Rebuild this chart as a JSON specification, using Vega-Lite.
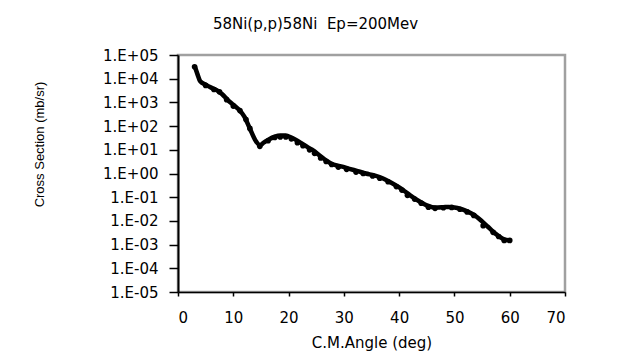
{
  "$schema": "https://vega.github.io/schema/vega-lite/v6.json",
  "width": 387,
  "height": 237,
  "autosize": "none",
  "padding": {"left": 178, "top": 55, "right": 60, "bottom": 66},
  "background": "white",
  "view": {"stroke": "#a0a0a0", "strokeWidth": 2.5},
  "title": {
    "text": "58Ni(p,p)58Ni \u00a0Ep=200Mev",
    "font": "DejaVu Sans",
    "fontSize": 15,
    "fontWeight": "normal",
    "color": "black",
    "anchor": "middle",
    "frame": "group",
    "dx": -56,
    "offset": 16
  },
  "datasets": {
    "theory": [
      {"angle": 3.0, "sigma": 35000}, {"angle": 3.5, "sigma": 16000}, {"angle": 4.0, "sigma": 7900},
      {"angle": 5.0, "sigma": 5600}, {"angle": 6.0, "sigma": 4200}, {"angle": 7.0, "sigma": 3300},
      {"angle": 8.0, "sigma": 2200}, {"angle": 9.0, "sigma": 1260}, {"angle": 10.0, "sigma": 794},
      {"angle": 11.0, "sigma": 501}, {"angle": 12.0, "sigma": 251}, {"angle": 13.0, "sigma": 79},
      {"angle": 14.0, "sigma": 25}, {"angle": 14.8, "sigma": 15.8}, {"angle": 15.5, "sigma": 20},
      {"angle": 16.5, "sigma": 28}, {"angle": 17.5, "sigma": 35.5}, {"angle": 18.5, "sigma": 39.8},
      {"angle": 19.5, "sigma": 39.8}, {"angle": 20.5, "sigma": 33}, {"angle": 21.5, "sigma": 25},
      {"angle": 22.5, "sigma": 17.8}, {"angle": 23.5, "sigma": 12.6}, {"angle": 24.5, "sigma": 9.3},
      {"angle": 25.5, "sigma": 6.0}, {"angle": 26.5, "sigma": 4.0}, {"angle": 27.5, "sigma": 2.8},
      {"angle": 28.5, "sigma": 2.24}, {"angle": 29.5, "sigma": 2.0}, {"angle": 31.0, "sigma": 1.58},
      {"angle": 32.5, "sigma": 1.26}, {"angle": 34.0, "sigma": 1.0}, {"angle": 35.5, "sigma": 0.83},
      {"angle": 37.0, "sigma": 0.63}, {"angle": 38.5, "sigma": 0.42}, {"angle": 40.0, "sigma": 0.26},
      {"angle": 41.0, "sigma": 0.178}, {"angle": 42.0, "sigma": 0.12}, {"angle": 43.0, "sigma": 0.083},
      {"angle": 44.0, "sigma": 0.060}, {"angle": 45.0, "sigma": 0.045}, {"angle": 46.0, "sigma": 0.038},
      {"angle": 47.0, "sigma": 0.037}, {"angle": 48.0, "sigma": 0.038}, {"angle": 49.0, "sigma": 0.039},
      {"angle": 50.0, "sigma": 0.037}, {"angle": 51.0, "sigma": 0.033}, {"angle": 52.0, "sigma": 0.027},
      {"angle": 53.0, "sigma": 0.021}, {"angle": 54.0, "sigma": 0.015}, {"angle": 55.0, "sigma": 0.0095},
      {"angle": 56.0, "sigma": 0.0058}, {"angle": 57.0, "sigma": 0.0035}, {"angle": 58.0, "sigma": 0.0023},
      {"angle": 59.0, "sigma": 0.00165}, {"angle": 60.0, "sigma": 0.0015}
    ],
    "exp": [
      {"angle": 3.0, "sigma": 32000}, {"angle": 5.0, "sigma": 5200}, {"angle": 6.5, "sigma": 3500},
      {"angle": 7.5, "sigma": 2800}, {"angle": 8.8, "sigma": 1300}, {"angle": 10.0, "sigma": 700},
      {"angle": 11.2, "sigma": 450}, {"angle": 12.3, "sigma": 190}, {"angle": 13.0, "sigma": 80},
      {"angle": 14.8, "sigma": 14}, {"angle": 16.3, "sigma": 24}, {"angle": 17.5, "sigma": 33},
      {"angle": 18.5, "sigma": 35}, {"angle": 19.5, "sigma": 35}, {"angle": 20.5, "sigma": 29},
      {"angle": 21.6, "sigma": 20}, {"angle": 22.6, "sigma": 15}, {"angle": 23.8, "sigma": 10},
      {"angle": 24.7, "sigma": 7.1}, {"angle": 25.8, "sigma": 4.5}, {"angle": 26.8, "sigma": 3.2},
      {"angle": 27.8, "sigma": 2.4}, {"angle": 29.0, "sigma": 1.86}, {"angle": 30.5, "sigma": 1.5},
      {"angle": 32.2, "sigma": 1.15}, {"angle": 33.5, "sigma": 1.0}, {"angle": 35.2, "sigma": 0.79},
      {"angle": 36.5, "sigma": 0.63}, {"angle": 38.0, "sigma": 0.45}, {"angle": 39.5, "sigma": 0.28},
      {"angle": 40.5, "sigma": 0.2}, {"angle": 41.5, "sigma": 0.12}, {"angle": 42.8, "sigma": 0.083},
      {"angle": 44.0, "sigma": 0.056}, {"angle": 45.3, "sigma": 0.038}, {"angle": 46.5, "sigma": 0.034},
      {"angle": 48.0, "sigma": 0.036}, {"angle": 49.5, "sigma": 0.037}, {"angle": 51.0, "sigma": 0.031},
      {"angle": 52.3, "sigma": 0.024}, {"angle": 53.5, "sigma": 0.017}, {"angle": 55.2, "sigma": 0.0063},
      {"angle": 57.0, "sigma": 0.0033}, {"angle": 58.0, "sigma": 0.0022}, {"angle": 59.0, "sigma": 0.0015},
      {"angle": 60.0, "sigma": 0.0015}
    ]
  },
  "encoding": {
    "x": {
      "field": "angle",
      "type": "quantitative",
      "scale": {"domain": [0, 70], "nice": false, "zero": false},
      "axis": {
        "title": "C.M.Angle (deg)",
        "values": [0, 10, 20, 30, 40, 50, 60, 70],
        "grid": false,
        "domainColor": "black",
        "domainWidth": 1.5,
        "tickColor": "black",
        "tickWidth": 1.5,
        "tickSize": 4,
        "labelPadding": 14,
        "labelFont": "DejaVu Sans",
        "labelFontSize": 15,
        "labelColor": "black",
        "titleFont": "DejaVu Sans",
        "titleFontSize": 15,
        "titleFontWeight": "normal",
        "titleColor": "black",
        "titlePadding": 10
      }
    },
    "y": {
      "field": "sigma",
      "type": "quantitative",
      "scale": {"type": "log", "domain": [0.00001, 100000], "nice": false},
      "axis": {
        "title": "Cross Section (mb/sr)",
        "values": [0.00001, 0.0001, 0.001, 0.01, 0.1, 1, 10, 100, 1000, 10000, 100000],
        "labelExpr": "'1.E' + (datum.value >= 1 ? '+' : '-') + format(abs(round(log(datum.value) / LN10)), '02d')",
        "grid": false,
        "domainColor": "black",
        "domainWidth": 2,
        "tickColor": "black",
        "tickWidth": 1.5,
        "tickSize": 9,
        "labelPadding": 11,
        "labelFont": "DejaVu Sans",
        "labelFontSize": 15,
        "labelColor": "black",
        "titleFont": "Liberation Sans Narrow, Liberation Sans",
        "titleFontSize": 13,
        "titleFontWeight": "normal",
        "titleColor": "black",
        "titleX": -139,
        "titleY": 89,
        "titleAngle": -90,
        "titleAlign": "center",
        "titleBaseline": "middle"
      }
    }
  },
  "layer": [
    {
      "data": {"name": "theory"},
      "mark": {"type": "line", "color": "black", "strokeWidth": 4.5, "interpolate": "monotone"}
    },
    {
      "data": {"name": "exp"},
      "mark": {"type": "point", "shape": "circle", "filled": true, "color": "black", "opacity": 1, "size": 32}
    }
  ]
}
